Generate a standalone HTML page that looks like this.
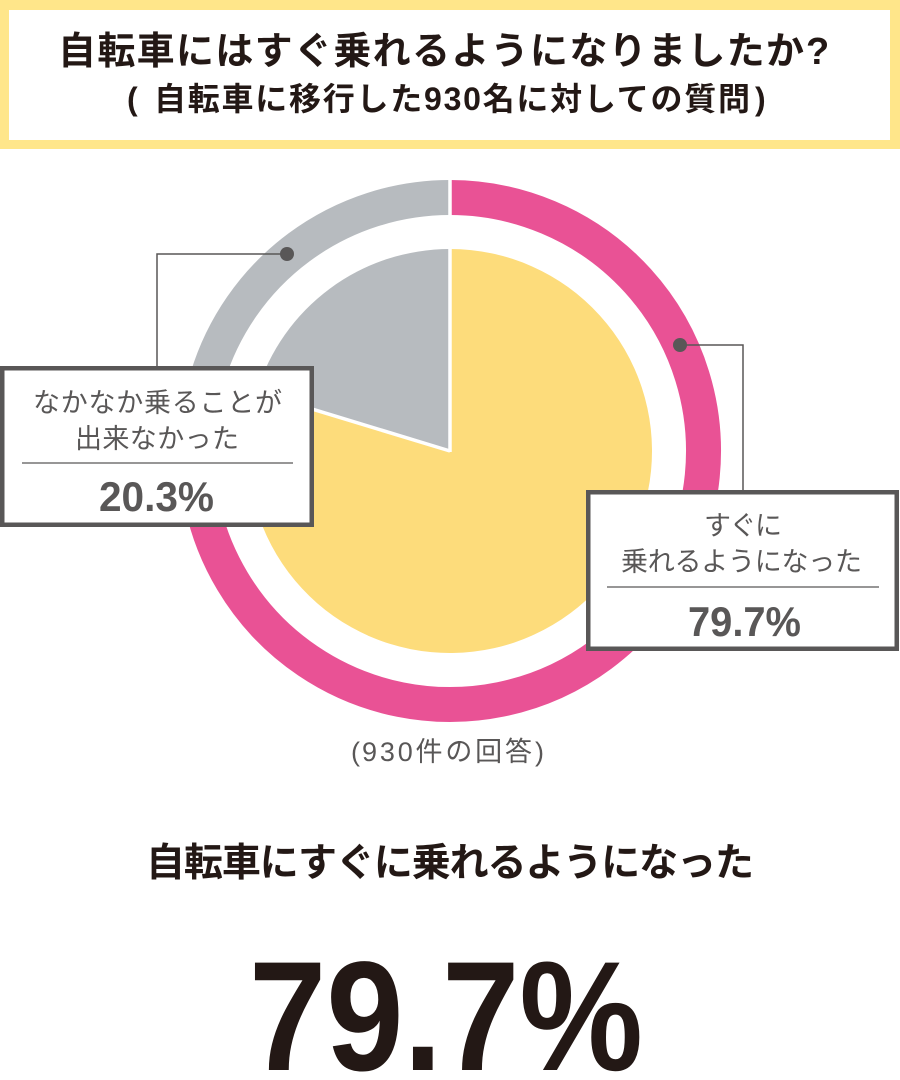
<!DOCTYPE html>
<html lang="ja">
<head>
<meta charset="utf-8">
<style>
  html, body { margin: 0; padding: 0; background: #ffffff; }
  body { width: 900px; height: 1080px; overflow: hidden; }
  svg { display: block; }
  .jp { font-family: "Liberation Sans", "Noto Sans CJK JP", sans-serif; }
</style>
</head>
<body>
<svg width="900" height="1080" viewBox="0 0 900 1080" xmlns="http://www.w3.org/2000/svg">
  <!-- Header -->
  <rect x="0" y="0" width="900" height="149" fill="#FFE68A"/>
  <rect x="9" y="10" width="881" height="130" fill="#FFFFFF"/>
  <text class="jp" x="58" y="64" font-size="38" font-weight="700" fill="#231815" textLength="746" lengthAdjust="spacing">自転車にはすぐ乗れるようになりましたか</text>
  <text class="jp" x="806" y="64" font-size="38" font-weight="700" fill="#231815">?</text>
  <text class="jp" x="127" y="110" font-size="32" font-weight="700" fill="#231815">(</text>
  <text class="jp" x="154" y="110" font-size="32" font-weight="700" fill="#231815" textLength="596" lengthAdjust="spacing">自転車に移行した930名に対しての質問</text>
  <text class="jp" x="755" y="110" font-size="32" font-weight="700" fill="#231815">)</text>

  <!-- Outer ring -->
  <path d="M450,197.5 A253.5,253.5 0 1 1 207.48,377.22" fill="none" stroke="#E95295" stroke-width="35"/>
  <path d="M450,197.5 A253.5,253.5 0 0 0 207.48,377.22" fill="none" stroke="#B7BBBF" stroke-width="35"/>

  <!-- Pie -->
  <path d="M450,451 L450,249 A202,202 0 1 1 256.75,392.21 Z" fill="#FDDC7B"/>
  <path d="M450,451 L450,249 A202,202 0 0 0 256.75,392.21 Z" fill="#B7BBBF"/>

  <!-- White separators -->
  <line x1="450" y1="452" x2="450" y2="172" stroke="#FFFFFF" stroke-width="3.5"/>
  <line x1="450" y1="451" x2="186.91" y2="370.97" stroke="#FFFFFF" stroke-width="3.5"/>

  <!-- Leader lines -->
  <polyline points="287,254 157,254 157,367" fill="none" stroke="#595757" stroke-width="1.5"/>
  <circle cx="287" cy="254" r="7" fill="#595757"/>
  <polyline points="680,345 743,345 743,491" fill="none" stroke="#595757" stroke-width="1.5"/>
  <circle cx="680" cy="345" r="7" fill="#595757"/>

  <!-- Left box -->
  <rect x="2.25" y="368.25" width="309.5" height="156.5" fill="#FFFFFF" stroke="#595757" stroke-width="4.5"/>
  <text class="jp" x="157.5" y="412" font-size="27" font-weight="400" fill="#595757" text-anchor="middle" textLength="249" lengthAdjust="spacing">なかなか乗ることが</text>
  <text class="jp" x="157" y="448" font-size="27" font-weight="400" fill="#595757" text-anchor="middle" textLength="164" lengthAdjust="spacing">出来なかった</text>
  <line x1="22" y1="463" x2="293" y2="463" stroke="#595757" stroke-width="1.2"/>
  <text class="jp" x="156.5" y="511" font-size="42" font-weight="700" fill="#595757" text-anchor="middle" textLength="115" lengthAdjust="spacingAndGlyphs">20.3%</text>

  <!-- Right box -->
  <rect x="588.25" y="492.25" width="308.5" height="156.5" fill="#FFFFFF" stroke="#595757" stroke-width="4.5"/>
  <text class="jp" x="743" y="535" font-size="27" font-weight="400" fill="#595757" text-anchor="middle" textLength="78" lengthAdjust="spacing">すぐに</text>
  <text class="jp" x="741.5" y="571" font-size="27" font-weight="400" fill="#595757" text-anchor="middle" textLength="241" lengthAdjust="spacing">乗れるようになった</text>
  <line x1="607" y1="587" x2="879" y2="587" stroke="#595757" stroke-width="1.2"/>
  <text class="jp" x="744.5" y="636" font-size="42" font-weight="700" fill="#595757" text-anchor="middle" textLength="113" lengthAdjust="spacingAndGlyphs">79.7%</text>

  <!-- Count note -->
  <text class="jp" x="351" y="761" font-size="27" font-weight="400" fill="#595757">(</text>
  <text class="jp" x="362" y="761" font-size="27" font-weight="400" fill="#595757" textLength="170" lengthAdjust="spacing">930件の回答</text>
  <text class="jp" x="535" y="761" font-size="27" font-weight="400" fill="#595757">)</text>

  <!-- Summary -->
  <text class="jp" x="450" y="876" font-size="39" font-weight="700" fill="#231815" text-anchor="middle" textLength="608" lengthAdjust="spacing">自転車にすぐに乗れるようになった</text>
  <text class="jp" x="249" y="1070" font-size="156" font-weight="700" fill="#231815" textLength="394" lengthAdjust="spacingAndGlyphs">79.7%</text>
</svg>
</body>
</html>
